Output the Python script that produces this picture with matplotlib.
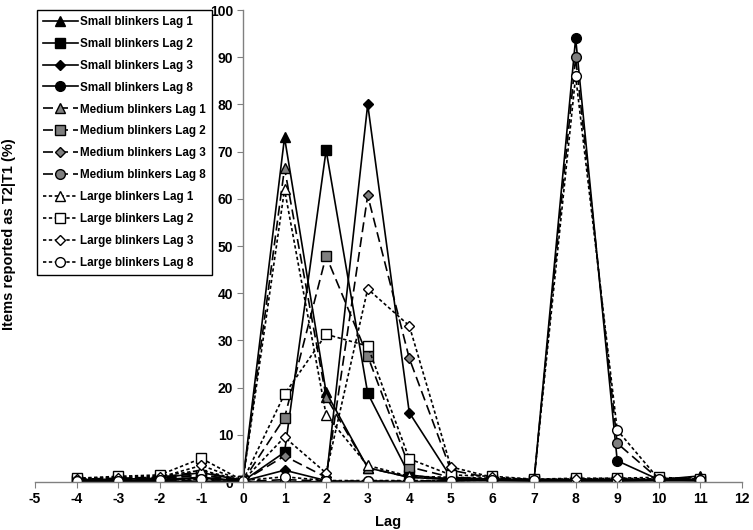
import matplotlib
matplotlib.use("Agg")
import matplotlib.pyplot as plt

plt.rcParams['font.family'] = ['Liberation Sans', 'DejaVu Sans']
plt.rcParams['font.weight'] = 'bold'
plt.rcParams['axes.unicode_minus'] = False

lags = [-4, -3, -2, -1, 0, 1, 2, 3, 4, 5, 6, 7, 8, 9, 10, 11]

small_lag1 = [0.5, 0.6, 0.8, 2.0, 0.3, 73.0, 19.0, 3.0, 1.0, 0.5, 0.5, 0.5, 0.5, 0.5, 0.5, 1.3]
small_lag2 = [0.3, 0.3, 0.5, 1.0, 0.2, 6.3, 70.3, 18.8, 1.5, 0.5, 0.3, 0.2, 0.2, 0.2, 0.3, 0.3]
small_lag3 = [0.3, 0.3, 0.4, 0.8, 0.2, 2.5, 0.3, 80.0, 14.7, 1.0, 0.5, 0.3, 0.3, 0.3, 0.3, 0.3]
small_lag8 = [0.1, 0.1, 0.1, 0.2, 0.0, 0.0, 0.1, 0.1, 0.1, 0.2, 0.3, 0.3, 94.0, 4.5, 0.5, 0.3]
medium_lag1 = [0.6, 0.8, 1.0, 2.2, 0.3, 66.5, 18.0, 3.0, 1.0, 0.8, 0.6, 0.5, 0.5, 0.5, 0.6, 0.8]
medium_lag2 = [0.5, 0.6, 0.8, 1.5, 0.2, 13.6, 47.9, 26.7, 3.2, 1.0, 0.6, 0.4, 0.4, 0.5, 0.5, 0.5]
medium_lag3 = [0.4, 0.5, 0.6, 1.5, 0.2, 5.5, 1.0, 60.7, 26.2, 2.5, 0.8, 0.4, 0.4, 0.5, 0.5, 0.5]
medium_lag8 = [0.2, 0.2, 0.2, 0.3, 0.1, 0.5, 0.2, 0.2, 0.2, 0.3, 0.5, 0.5, 90.0, 8.2, 0.6, 0.4]
large_lag1 = [0.7, 1.0, 1.2, 2.5, 0.3, 62.0, 14.2, 3.5, 1.2, 1.0, 0.8, 0.5, 0.6, 0.6, 0.7, 1.0]
large_lag2 = [0.8, 1.2, 1.5, 5.0, 0.3, 18.6, 31.3, 28.8, 4.9, 1.5, 1.2, 0.6, 0.8, 0.8, 1.0, 0.6]
large_lag3 = [0.6, 0.8, 1.0, 3.5, 0.3, 9.5, 1.9, 40.9, 33.1, 3.2, 1.0, 0.5, 0.6, 0.8, 0.6, 0.6]
large_lag8 = [0.3, 0.3, 0.4, 0.6, 0.3, 1.1, 0.3, 0.3, 0.3, 0.3, 0.4, 0.5, 86.0, 11.0, 0.6, 0.4]

series_labels = ["Small blinkers Lag 1", "Small blinkers Lag 2", "Small blinkers Lag 3", "Small blinkers Lag 8",
                 "Medium blinkers Lag 1", "Medium blinkers Lag 2", "Medium blinkers Lag 3", "Medium blinkers Lag 8",
                 "Large blinkers Lag 1", "Large blinkers Lag 2", "Large blinkers Lag 3", "Large blinkers Lag 8"]
series_values = [small_lag1, small_lag2, small_lag3, small_lag8,
                 medium_lag1, medium_lag2, medium_lag3, medium_lag8,
                 large_lag1, large_lag2, large_lag3, large_lag8]

markers = ['^', 's', 'D', 'o']
msizes = [6.8, 6.8, 5.0, 7.0]
group_face = ['black', '#7f7f7f', 'white']
group_ls = ['-', (0, (6, 3)), (0, (2, 1.5))]

fig = plt.figure(figsize=(7.53, 5.30), dpi=100)
ax = fig.add_axes([35/753, 1-482/530, (742-35)/753, (482-10)/530])

for i, (lab, vals) in enumerate(zip(series_labels, series_values)):
    g = i // 4
    m = i % 4
    ax.plot(lags, vals, color='black', lw=1.2, linestyle=group_ls[g],
            marker=markers[m], markersize=msizes[m], markerfacecolor=group_face[g],
            markeredgecolor='black', markeredgewidth=1.0, label=lab)

ax.set_xlim(-5, 12)
ax.set_ylim(0, 100)
ax.set_xticks(range(-5, 13))
ax.set_yticks(range(0, 101, 10))
ax.spines['left'].set_position(('data', 0))
ax.spines['top'].set_visible(False)
ax.spines['right'].set_visible(False)
for s in ['left', 'bottom']:
    ax.spines[s].set_color('#808080')
    ax.spines[s].set_linewidth(1.0)
ax.tick_params(axis='both', direction='out', length=4, color='#808080', labelsize=10, pad=3)
for t in ax.get_xticklabels() + ax.get_yticklabels():
    t.set_fontweight('bold')

ax.set_xlabel("Lag", fontsize=10.5, fontweight='bold')
ax.xaxis.set_label_coords(0.5, -0.070)
ax.set_ylabel("Items reported as T2|T1 (%)", fontsize=10.5, fontweight='bold')
ax.yaxis.set_label_coords(-0.027, 0.525)

leg = ax.legend(loc='upper left', bbox_to_anchor=(37/753, 1-10/530), bbox_transform=fig.transFigure,
                numpoints=1, handlelength=3.0, handletextpad=0.2, labelspacing=0.85,
                borderpad=0.5, borderaxespad=0, fancybox=False, framealpha=1, edgecolor='black',
                prop={'size': 8.4, 'weight': 'bold'})
leg.get_frame().set_linewidth(1.0)

fig.savefig("out.png", dpi=100)
